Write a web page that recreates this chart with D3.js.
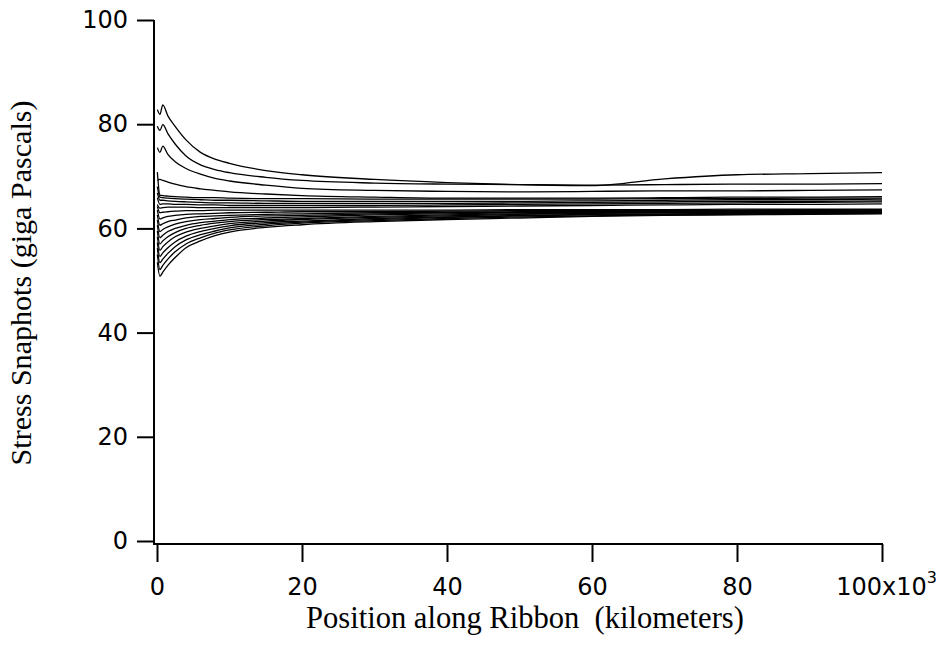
<!DOCTYPE html>
<html>
<head>
<meta charset="utf-8">
<script src="https://cdn.jsdelivr.net/npm/d3@7/dist/d3.min.js"></script>
<style>
  body { margin: 0; background: #fff; }
  .tick text { font-family: "DejaVu Sans", sans-serif; font-size: 24px; fill: #000; }
  .title { font-family: "Liberation Serif", "Times New Roman", serif; fill: #000; }
</style>
</head>
<body>
<div class="mainContainer"></div>
<script>
// positions along ribbon (x 1000 km)
var xs = [0.05, 0.4, 0.8, 1.5, 2.5, 4, 6, 8, 10, 15, 20, 30, 40, 50, 60, 70, 80, 90, 100];

// stress snapshots (GPa), upper curves
var upA = [82.8, 81.9, 83.7, 81.6, 79.6, 77.0, 74.6, 73.3, 72.5, 71.1, 70.3, 69.4, 68.8, 68.4, 68.2, 69.5, 70.3, 70.5, 70.7];
var upB = [79.6, 78.8, 79.9, 78.2, 76.2, 73.9, 72.2, 71.3, 70.7, 69.8, 69.2, 68.7, 68.5, 68.4, 68.3, 68.4, 68.5, 68.5, 68.6];
var upC = [75.5, 74.6, 75.8, 74.2, 72.8, 71.5, 70.4, 69.6, 69.1, 68.3, 67.7, 67.3, 67.1, 67.0, 67.1, 67.2, 67.2, 67.3, 67.4];
var upD = [69.2, 69.4, 69.2, 68.9, 68.5, 68.0, 67.6, 67.3, 67.0, 66.6, 66.3, 66.0, 65.8, 65.8, 65.8, 65.9, 66.0, 66.0, 66.1];

// middle bundle
var mid1 = [70.8, 66.4, 66.3, 66.2, 66.1, 66.0, 65.9, 65.9, 65.8, 65.7, 65.7, 65.6, 65.6, 65.6, 65.6, 65.7, 65.7, 65.8, 65.8];
var mid2 = [68.0, 66.0, 65.9, 65.8, 65.7, 65.6, 65.5, 65.4, 65.4, 65.3, 65.2, 65.2, 65.2, 65.2, 65.3, 65.4, 65.5, 65.5, 65.6];
var mid3 = [66.8, 65.4, 65.4, 65.3, 65.2, 65.1, 65.0, 64.9, 64.9, 64.8, 64.8, 64.8, 64.8, 64.9, 65.0, 65.1, 65.2, 65.2, 65.3];
var mid4 = [65.9, 64.6, 64.7, 64.7, 64.6, 64.6, 64.5, 64.5, 64.4, 64.4, 64.4, 64.4, 64.5, 64.6, 64.7, 64.8, 64.9, 65.0, 65.1];
var mid5 = [64.6, 63.9, 64.0, 64.1, 64.1, 64.1, 64.0, 64.0, 64.0, 64.0, 64.0, 64.1, 64.2, 64.3, 64.4, 64.5, 64.6, 64.6, 64.7];

// lower curves
var low1 = [64.2, 63.0, 63.1, 63.2, 63.3, 63.4, 63.4, 63.5, 63.5, 63.5, 63.5, 63.5, 63.5, 63.6, 63.6, 63.6, 63.7, 63.7, 63.7];
var low2 = [63.5, 61.8, 62.0, 62.3, 62.5, 62.7, 62.8, 62.9, 63.0, 63.1, 63.2, 63.2, 63.3, 63.4, 63.4, 63.5, 63.5, 63.6, 63.6];
var low3 = [62.6, 60.6, 60.9, 61.3, 61.6, 62.0, 62.3, 62.4, 62.5, 62.7, 62.8, 63.0, 63.1, 63.2, 63.3, 63.4, 63.4, 63.5, 63.5];
var low4 = [61.6, 59.4, 59.8, 60.3, 60.8, 61.3, 61.7, 61.9, 62.1, 62.4, 62.5, 62.8, 63.0, 63.1, 63.2, 63.3, 63.3, 63.4, 63.4];
var low5 = [60.6, 58.2, 58.7, 59.4, 60.0, 60.6, 61.1, 61.4, 61.7, 62.0, 62.2, 62.6, 62.8, 63.0, 63.1, 63.2, 63.2, 63.3, 63.3];
var low6 = [59.5, 57.0, 57.6, 58.4, 59.2, 60.0, 60.6, 61.0, 61.3, 61.7, 61.9, 62.3, 62.6, 62.8, 63.0, 63.1, 63.1, 63.2, 63.2];
var low7 = [58.4, 55.8, 56.5, 57.4, 58.4, 59.3, 60.0, 60.5, 60.9, 61.4, 61.7, 62.1, 62.4, 62.7, 62.9, 63.0, 63.0, 63.1, 63.1];
var low8 = [57.3, 54.6, 55.3, 56.3, 57.4, 58.5, 59.4, 60.0, 60.5, 61.1, 61.4, 61.9, 62.2, 62.5, 62.7, 62.8, 62.9, 63.0, 63.0];
var low9 = [56.2, 53.4, 54.1, 55.2, 56.5, 57.8, 58.8, 59.5, 60.1, 60.8, 61.2, 61.7, 62.1, 62.4, 62.6, 62.7, 62.8, 62.9, 63.0];
var low10 = [55.0, 52.1, 52.9, 54.1, 55.5, 57.0, 58.2, 59.1, 59.7, 60.5, 61.0, 61.5, 61.9, 62.2, 62.4, 62.6, 62.7, 62.8, 62.9];
var low11 = [53.5, 50.8, 51.6, 52.9, 54.4, 56.3, 57.6, 58.6, 59.3, 60.2, 60.7, 61.3, 61.7, 62.0, 62.3, 62.5, 62.6, 62.7, 62.8];

var allSeries = [upA, upB, upC, upD, mid1, mid2, mid3, mid4, mid5,
	low1, low2, low3, low4, low5, low6, low7, low8, low9, low10, low11];

var xTicks = [0, 20, 40, 60, 80, 100];
var yTicks = [0, 20, 40, 60, 80, 100];

var width = 936, height = 661;
var svg = d3.select('.mainContainer').append('svg').attr('width', width).attr('height', height);

var x = d3.scaleLinear().domain([0, 100]).range([157, 882]);
var y = d3.scaleLinear().domain([0, 100]).range([541, 20]);

var line = d3.line()
	.x(function(d, i) { return x(xs[i]); })
	.y(function(d) { return y(d); })
	.curve(d3.curveMonotoneX);

svg.append('g').selectAll('path').data(allSeries).enter().append('path')
	.attr('d', line)
	.style('fill', 'none').style('stroke', '#000').style('stroke-width', 1.3);

// y axis
var yAxis = svg.append('g').attr('transform', 'translate(154,0)')
	.call(d3.axisLeft(y).tickValues(yTicks).tickSize(17).tickSizeOuter(0).tickPadding(9));
yAxis.select('.domain').remove();
yAxis.selectAll('.tick line').style('stroke', '#000').style('stroke-width', 2);
yAxis.append('line').attr('x1', 0).attr('x2', 0).attr('y1', 20).attr('y2', 545).style('stroke', '#000').style('stroke-width', 2);

// x axis
var xAxis = svg.append('g').attr('transform', 'translate(0,544)')
	.call(d3.axisBottom(x).tickValues(xTicks).tickSize(18).tickSizeOuter(0).tickPadding(16)
		.tickFormat(function(d) { return d === 100 ? '' : d; }));
xAxis.select('.domain').remove();
xAxis.selectAll('.tick line').style('stroke', '#000').style('stroke-width', 2);
xAxis.append('line').attr('x1', 153).attr('x2', x(100) + 1).attr('y1', 0).attr('y2', 0).style('stroke', '#000').style('stroke-width', 2);

var last = xAxis.selectAll('.tick').filter(function(d) { return d === 100; }).select('text');
last.append('tspan').text('100x10');
last.append('tspan').attr('dy', '-0.75em').style('font-size', '16px').text('3');
last.attr('dx', '4');

// titles
var xt = svg.append('text').attr('class', 'title').attr('text-anchor', 'middle')
	.attr('x', 525).attr('y', 628).style('font-size', '24px')
	.text('Position along Ribbon  (kilometers)');
xt.attr('xml:space', 'preserve').style('white-space', 'pre');
var xs0 = xt.node().getComputedTextLength();
xt.style('font-size', (24 * 438 / xs0) + 'px');

var yt = svg.append('text').attr('class', 'title').attr('text-anchor', 'middle')
	.attr('transform', 'translate(31,283) rotate(-90)').style('font-size', '24px')
	.text('Stress Snaphots (giga Pascals)');
var ys0 = yt.node().getComputedTextLength();
yt.style('font-size', (24 * 365 / ys0) + 'px');
</script>
</body>
</html>
